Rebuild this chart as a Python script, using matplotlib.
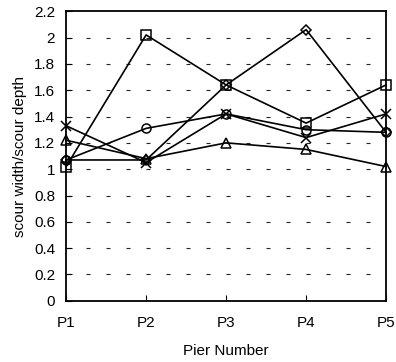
import matplotlib.pyplot as plt

plt.rcParams['font.family'] = ['Liberation Sans', 'DejaVu Sans']

piers = ['P1', 'P2', 'P3', 'P4', 'P5']
square = [1.02, 2.02, 1.64, 1.35, 1.64]
diamond = [1.07, 1.07, 1.64, 2.06, 1.28]
circle = [1.07, 1.31, 1.42, 1.30, 1.28]
triangle = [1.22, 1.08, 1.20, 1.15, 1.02]
cross = [1.33, 1.05, 1.42, 1.24, 1.42]

fig = plt.figure(figsize=(3.96, 3.62), dpi=100)
ax = fig.add_axes([0.167, 0.169, 0.808, 0.800])

x = range(len(piers))
series = [(square, 's'), (diamond, 'D'), (circle, 'o'), (triangle, '^'), (cross, 'x')]
for vals, mk in series:
    ax.plot(x, vals, color='black', lw=1.2, marker=mk, markersize=6.5 if mk != 'D' else 5,
            markerfacecolor='none', markeredgecolor='black', markeredgewidth=1.1,
            clip_on=False, zorder=3)

ax.set_xlim(0, 4)
ax.set_ylim(0, 2.2)
ax.set_xticks(list(x))
ax.set_xticklabels(piers)
yt = [i * 0.2 for i in range(12)]
ax.set_yticks(yt)
ax.set_yticklabels(['%g' % round(v, 1) for v in yt])

# short dashes across the plot at every 0.2
for v in yt[1:-1]:
    ax.axhline(v, color='#222222', lw=0.8, ls=(0, (3.6, 14.4)), zorder=1)

for s in ax.spines.values():
    s.set_linewidth(1.3)
ax.tick_params(axis='x', direction='in', length=4, pad=11, labelsize=11)
ax.tick_params(axis='y', direction='in', length=4, pad=8, labelsize=11)

ax.set_xlabel('Pier Number', fontsize=11, labelpad=10)
ax.set_ylabel('scour width/scour depth', fontsize=11, labelpad=5)

plt.savefig('out.png', dpi=100)
